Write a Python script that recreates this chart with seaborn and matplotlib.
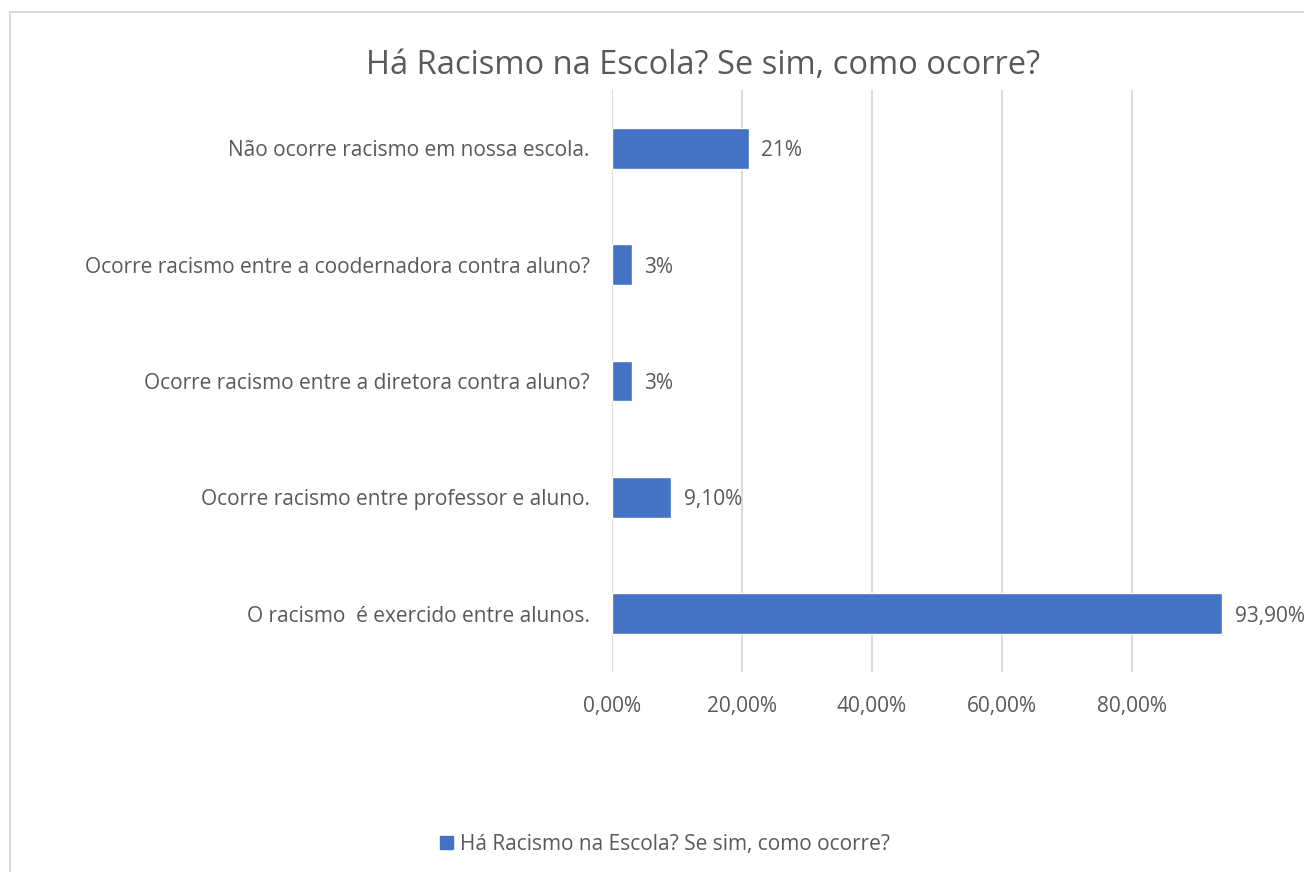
import matplotlib
matplotlib.use("Agg")
import matplotlib.pyplot as plt
import seaborn as sns
import pandas as pd
from matplotlib.patches import Rectangle

categories = [
    "Não ocorre racismo em nossa escola.",
    "Ocorre racismo entre a coodernadora contra aluno?",
    "Ocorre racismo entre a diretora contra aluno?",
    "Ocorre racismo entre professor e aluno.",
    "O racismo  é exercido entre alunos.",
]
values = [0.21, 0.03, 0.03, 0.091, 0.939]
value_labels = ["21%", "3%", "3%", "9,10%", "93,90%"]
tick_values = [0.0, 0.2, 0.4, 0.6, 0.8]
tick_labels = ["0,00%", "20,00%", "40,00%", "60,00%", "80,00%"]
title = "Há Racismo na Escola? Se sim, como ocorre?"
series_name = "Há Racismo na Escola? Se sim, como ocorre?"

sns.set_style("white")
plt.rcParams["font.family"] = ["Open Sans", "DejaVu Sans"]

W, H = 1304, 872
fig = plt.figure(figsize=(W / 100, H / 100), dpi=100)
ax = fig.add_axes([612 / W, 1 - 672 / H, (1229.5 - 612) / W, (672 - 90) / H])

df = pd.DataFrame({"cat": categories, "val": values})
bar_color = "#4472C4"
text_color = "#595959"
sns.barplot(data=df, y="cat", x="val", orient="h", color=bar_color,
            width=0.35, ax=ax, saturation=1, zorder=3)

ax.set_xlim(0, 0.95)
ax.set_ylim(4.5, -0.5)
ax.set_xticks(tick_values)
ax.set_xticklabels(tick_labels, color=text_color, fontsize=15)
ax.tick_params(axis="y", labelsize=15, labelcolor=text_color, length=0, pad=16)
ax.tick_params(axis="x", length=0, pad=17)
for lbl in ax.get_yticklabels():
    lbl.set_va("center_baseline")
ax.set_xlabel("")
ax.set_ylabel("")
ax.grid(axis="x", color="#D9D9D9", linewidth=1.3, zorder=0)
for s in ax.spines.values():
    s.set_visible(False)

for i, (v, lab) in enumerate(zip(values, value_labels)):
    ax.annotate(lab, xy=(v, i), xytext=(13, 0), textcoords="offset pixels",
                ha="left", va="center_baseline", fontsize=15, color=text_color,
                annotation_clip=False)

fig.text(703 / W, 1 - 62 / H, title, ha="center", va="center_baseline",
         fontsize=23.5, color=text_color)

# legend
fig.patches.append(Rectangle((440 / W, 1 - 849 / H), 13 / W, 13 / H,
                             transform=fig.transFigure, color=bar_color))
fig.text(460 / W, 1 - 842 / H, series_name, ha="left", va="center_baseline",
         fontsize=15, color=text_color)

# chart border
fig.patches.append(Rectangle((10 / W, -0.05), 1.2, 1 - 12 / H + 0.05,
                             transform=fig.transFigure, fill=False,
                             edgecolor="#D9D9D9", linewidth=1.5))

fig.savefig("out.png", dpi=100)
